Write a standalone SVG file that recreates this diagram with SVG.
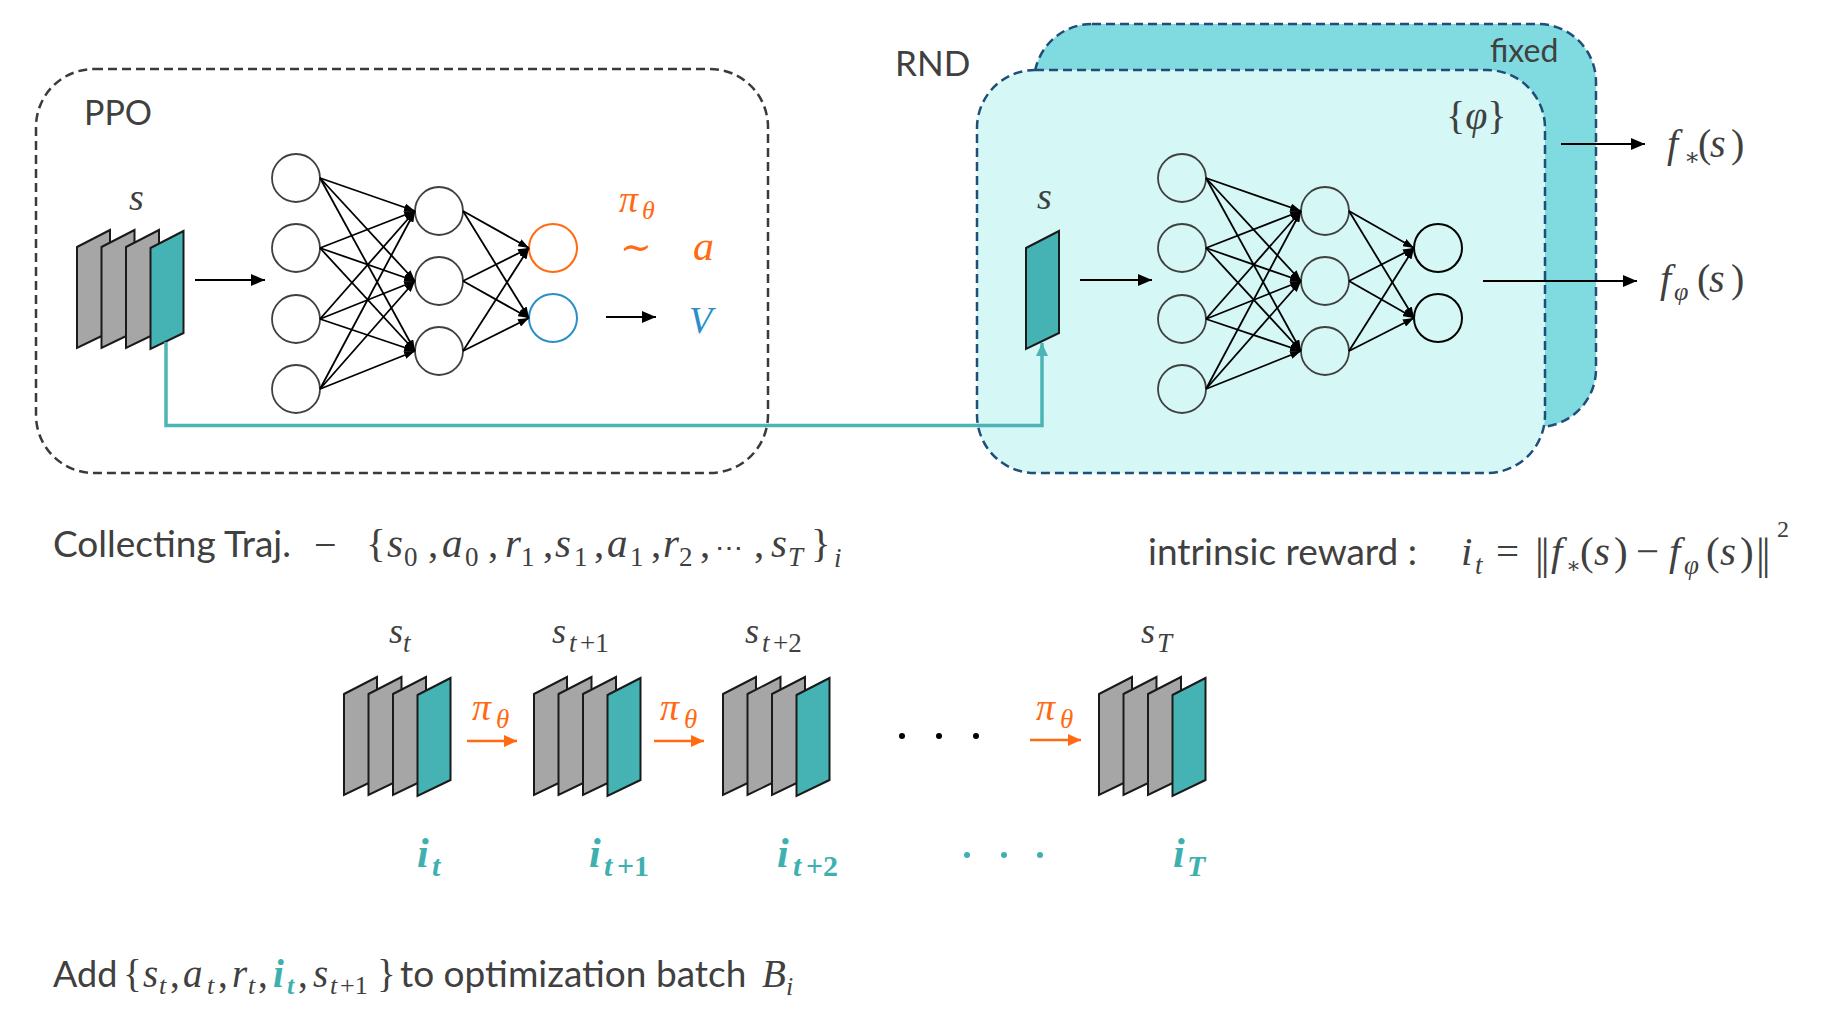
<svg xmlns="http://www.w3.org/2000/svg" width="1830" height="1013" viewBox="0 0 1830 1013">
<defs>
<style>
.sans{font-family:Lato,'Liberation Sans',sans-serif;fill:#404040}
.m{font-family:'Liberation Serif','DejaVu Serif',serif;font-style:italic;fill:#404040}
.n{font-style:normal}
.org{fill:#ff6a13}
.blu{fill:#2a8fc9}
.tl{fill:#3fb0b0;font-weight:bold}
.gray{fill:#a6a6a6;stroke:#1a1a1a;stroke-width:2;stroke-linejoin:miter}
.teal{fill:#45b3b3;stroke:#1a1a1a;stroke-width:2;stroke-linejoin:miter}
.nd{fill:none;stroke:#404040;stroke-width:1.8}
.ndk{fill:none;stroke:#000;stroke-width:2}
.ed{stroke:#000;stroke-width:1.8;marker-end:url(#ah)}
.big{stroke:#000;stroke-width:2;marker-end:url(#ab)}
.oa{stroke:#ff6a13;stroke-width:2.5;marker-end:url(#ao)}
</style>
<marker id="ah" markerUnits="userSpaceOnUse" markerWidth="11" markerHeight="8" refX="11" refY="4" orient="auto"><path d="M0,0 L11,4 L0,8 z" fill="#000"/></marker>
<marker id="ab" markerUnits="userSpaceOnUse" markerWidth="14" markerHeight="12" refX="14" refY="6" orient="auto"><path d="M0,0 L14,6 L0,12 z" fill="#000"/></marker>
<marker id="ao" markerUnits="userSpaceOnUse" markerWidth="13" markerHeight="12" refX="13" refY="6" orient="auto"><path d="M0,0 L13,6 L0,12 z" fill="#ff6a13"/></marker>
<marker id="at" markerUnits="userSpaceOnUse" markerWidth="13" markerHeight="12" refX="13" refY="6" orient="auto"><path d="M0,0 L13,6 L0,12 z" fill="#4bb5b5"/></marker>
<polygon id="frg" class="gray" points="0,17 33,0 33,102 0,118"/>
<polygon id="frt" class="teal" points="0,17 33,0 33,102 0,118"/>
<g id="stack">
<use href="#frg" x="0" y="0"/>
<use href="#frg" x="24.5" y="0"/>
<use href="#frg" x="49" y="0"/>
<use href="#frt" x="73.5" y="1"/>
</g>
</defs>
<rect width="1830" height="1013" fill="#fff"/>

<g id="ppo-box">
<rect x="36" y="69" width="732" height="404" rx="58" fill="none" stroke="#3a3a3a" stroke-width="2.5" stroke-dasharray="9,5"/>
<text class="sans" x="84" y="125" font-size="34">PPO</text>
</g>

<g id="rnd-fixed">
<rect x="1034" y="24" width="562" height="403" rx="58" fill="#7fdbdf" stroke="#1f4e79" stroke-width="2.5" stroke-dasharray="9,5"/>
<text class="sans" x="1490" y="62" font-size="32">fixed</text>
</g>
<g id="rnd-box">
<rect x="977" y="70" width="568" height="403" rx="58" fill="#d5f7f5" stroke="#1f4e79" stroke-width="2.5" stroke-dasharray="9,5"/>
<text class="m" x="1446" y="129" font-size="40"><tspan class="n">{</tspan>φ<tspan class="n">}</tspan></text>
</g>
<g id="rnd-label"><text class="sans" x="895" y="76" font-size="35">RND</text></g>

<g id="ppo-state">
<use href="#stack" x="77" y="230"/>
<text class="m" x="129" y="210" font-size="38">s</text>
</g>
<g id="rnd-state">
<use href="#frt" x="1026" y="231"/>
<text class="m" x="1037" y="209" font-size="38">s</text>
</g>

<g id="ppo-net">
<g id="ppo-in1"><circle class="nd" cx="296" cy="178" r="24"/></g>
<g id="ppo-in2"><circle class="nd" cx="296" cy="248" r="24"/></g>
<g id="ppo-in3"><circle class="nd" cx="296" cy="319" r="24"/></g>
<g id="ppo-in4"><circle class="nd" cx="296" cy="389" r="24"/></g>
<g id="ppo-h1"><circle class="nd" cx="439" cy="211" r="24"/></g>
<g id="ppo-h2"><circle class="nd" cx="439" cy="281" r="24"/></g>
<g id="ppo-h3"><circle class="nd" cx="439" cy="351" r="24"/></g>
<g id="ppo-pi"><circle cx="553" cy="248" r="24" fill="none" stroke="#ff6a13" stroke-width="2"/></g>
<g id="ppo-v"><circle cx="553" cy="318" r="24" fill="none" stroke="#2a8fc9" stroke-width="2"/></g>
</g>
<g id="ppo-out-labels">
<text class="m org" x="619" y="212" font-size="38">π<tspan x="642" y="219" font-size="26">θ</tspan></text>
<text class="m org n" x="620" y="260" font-size="38">∼</text>
<text class="m org" x="693" y="260" font-size="42">a</text>
<text class="m blu" x="689" y="333" font-size="38">V</text>
</g>

<g id="rnd-net">
<g id="rnd-in1"><circle class="nd" cx="1182" cy="178" r="24"/></g>
<g id="rnd-in2"><circle class="nd" cx="1182" cy="248" r="24"/></g>
<g id="rnd-in3"><circle class="nd" cx="1182" cy="319" r="24"/></g>
<g id="rnd-in4"><circle class="nd" cx="1182" cy="389" r="24"/></g>
<g id="rnd-h1"><circle class="nd" cx="1325" cy="211" r="24"/></g>
<g id="rnd-h2"><circle class="nd" cx="1325" cy="281" r="24"/></g>
<g id="rnd-h3"><circle class="nd" cx="1325" cy="351" r="24"/></g>
<g id="rnd-o1"><circle class="ndk" cx="1438" cy="248" r="24"/></g>
<g id="rnd-o2"><circle class="ndk" cx="1438" cy="318" r="24"/></g>
</g>
<g id="rnd-out-labels">
<text class="m" x="1667" y="157" font-size="40">f<tspan class="n" x="1684" y="165" font-size="24">∗</tspan><tspan class="n" x="1698" y="157">(</tspan><tspan x="1710">s</tspan><tspan class="n" x="1731">)</tspan></text>
<text class="m" x="1660" y="292" font-size="40">f<tspan x="1674" y="300" font-size="26">φ</tspan><tspan class="n" x="1697" y="292">(</tspan><tspan x="1709">s</tspan><tspan class="n" x="1731">)</tspan></text>
</g>

<g id="connectors">
<line class="big" x1="195" y1="280" x2="265" y2="280"/>
<line class="big" x1="606" y1="317" x2="656" y2="317"/>
<line class="big" x1="1080" y1="280" x2="1152" y2="280"/>
<line class="big" x1="1561" y1="144" x2="1645" y2="144"/>
<line class="big" x1="1483" y1="281" x2="1637" y2="281"/>
<polyline points="166,342 166,425.5 1042,425.5 1042,343" fill="none" stroke="#4bb5b5" stroke-width="3.5" marker-end="url(#at)"/>
<line class="ed" x1="320" y1="178" x2="415" y2="211"/>
<line class="ed" x1="320" y1="178" x2="415" y2="281"/>
<line class="ed" x1="320" y1="178" x2="415" y2="351"/>
<line class="ed" x1="320" y1="248" x2="415" y2="211"/>
<line class="ed" x1="320" y1="248" x2="415" y2="281"/>
<line class="ed" x1="320" y1="248" x2="415" y2="351"/>
<line class="ed" x1="320" y1="319" x2="415" y2="211"/>
<line class="ed" x1="320" y1="319" x2="415" y2="281"/>
<line class="ed" x1="320" y1="319" x2="415" y2="351"/>
<line class="ed" x1="320" y1="389" x2="415" y2="211"/>
<line class="ed" x1="320" y1="389" x2="415" y2="281"/>
<line class="ed" x1="320" y1="389" x2="415" y2="351"/>
<line class="ed" x1="463" y1="211" x2="529" y2="248"/>
<line class="ed" x1="463" y1="211" x2="529" y2="318"/>
<line class="ed" x1="463" y1="281" x2="529" y2="248"/>
<line class="ed" x1="463" y1="281" x2="529" y2="318"/>
<line class="ed" x1="463" y1="351" x2="529" y2="248"/>
<line class="ed" x1="463" y1="351" x2="529" y2="318"/>
<line class="ed" x1="1206" y1="178" x2="1301" y2="211"/>
<line class="ed" x1="1206" y1="178" x2="1301" y2="281"/>
<line class="ed" x1="1206" y1="178" x2="1301" y2="351"/>
<line class="ed" x1="1206" y1="248" x2="1301" y2="211"/>
<line class="ed" x1="1206" y1="248" x2="1301" y2="281"/>
<line class="ed" x1="1206" y1="248" x2="1301" y2="351"/>
<line class="ed" x1="1206" y1="319" x2="1301" y2="211"/>
<line class="ed" x1="1206" y1="319" x2="1301" y2="281"/>
<line class="ed" x1="1206" y1="319" x2="1301" y2="351"/>
<line class="ed" x1="1206" y1="389" x2="1301" y2="211"/>
<line class="ed" x1="1206" y1="389" x2="1301" y2="281"/>
<line class="ed" x1="1206" y1="389" x2="1301" y2="351"/>
<line class="ed" x1="1349" y1="211" x2="1414" y2="248"/>
<line class="ed" x1="1349" y1="211" x2="1414" y2="318"/>
<line class="ed" x1="1349" y1="281" x2="1414" y2="248"/>
<line class="ed" x1="1349" y1="281" x2="1414" y2="318"/>
<line class="ed" x1="1349" y1="351" x2="1414" y2="248"/>
<line class="ed" x1="1349" y1="351" x2="1414" y2="318"/>
<line class="oa" x1="467" y1="741" x2="517" y2="741"/>
<line class="oa" x1="654" y1="741" x2="704" y2="741"/>
<line class="oa" x1="1030" y1="740" x2="1081" y2="740"/>
</g>

<g id="traj-text">
<text class="sans" x="53" y="557" font-size="37">Collecting Traj.</text>
<text class="m n" x="314" y="558" font-size="40">−</text>
<text class="m" y="557" font-size="41"><tspan class="n" x="366">{</tspan><tspan x="387">s</tspan><tspan class="n" x="404" y="566" font-size="27">0</tspan><tspan class="n" x="428" y="557">,</tspan><tspan x="442">a</tspan><tspan class="n" x="465" y="566" font-size="27">0</tspan><tspan class="n" x="488" y="557">,</tspan><tspan x="505">r</tspan><tspan class="n" x="521" y="566" font-size="27">1</tspan><tspan class="n" x="543" y="557">,</tspan><tspan x="555">s</tspan><tspan class="n" x="574" y="566" font-size="27">1</tspan><tspan class="n" x="594" y="557">,</tspan><tspan x="607">a</tspan><tspan class="n" x="630" y="566" font-size="27">1</tspan><tspan class="n" x="651" y="557">,</tspan><tspan x="663">r</tspan><tspan class="n" x="679" y="566" font-size="27">2</tspan><tspan class="n" x="700" y="557">,</tspan><tspan class="n" x="715" font-size="28">⋯</tspan><tspan class="n" x="754">,</tspan><tspan x="771">s</tspan><tspan x="788" y="566" font-size="27">T</tspan><tspan class="n" x="811" y="557">}</tspan><tspan x="834" y="567" font-size="27">i</tspan></text>
</g>

<g id="intrinsic-text">
<text class="sans" x="1148" y="565" font-size="37">intrinsic reward :</text>
<text class="m" y="565" font-size="41"><tspan x="1461">i</tspan><tspan x="1475" y="574" font-size="27">t</tspan><tspan class="n" x="1496" y="565">=</tspan><tspan class="n" x="1535" y="569" font-size="44" letter-spacing="-3">||</tspan><tspan x="1551" y="565">f</tspan><tspan class="n" x="1566" y="573" font-size="22">∗</tspan><tspan class="n" x="1580" y="565">(</tspan><tspan x="1594">s</tspan><tspan class="n" x="1614">)</tspan><tspan class="n" x="1636">−</tspan><tspan x="1669">f</tspan><tspan x="1684" y="574" font-size="27">φ</tspan><tspan class="n" x="1706" y="565">(</tspan><tspan x="1720">s</tspan><tspan class="n" x="1740">)</tspan><tspan class="n" x="1756" y="569" font-size="44" letter-spacing="-3">||</tspan><tspan class="n" x="1777" y="537" font-size="24">2</tspan></text>
</g>

<g id="state-t">
<use href="#stack" x="344" y="677"/>
<text class="m" x="389" y="643" font-size="36">s<tspan x="403" y="652" font-size="27">t</tspan></text>
</g>
<g id="state-t1">
<use href="#stack" x="534" y="677"/>
<text class="m" x="552" y="643" font-size="36">s<tspan x="569" y="652" font-size="27">t</tspan><tspan class="n" x="580" font-size="27">+1</tspan></text>
</g>
<g id="state-t2">
<use href="#stack" x="723" y="677"/>
<text class="m" x="745" y="643" font-size="36">s<tspan x="762" y="652" font-size="27">t</tspan><tspan class="n" x="773" font-size="27">+2</tspan></text>
</g>
<g id="state-T">
<use href="#stack" x="1099" y="677"/>
<text class="m" x="1141" y="643" font-size="36">s<tspan x="1157" y="652" font-size="27">T</tspan></text>
</g>

<g id="policy-labels">
<text class="m org" x="472" y="720" font-size="38">π<tspan x="496" y="728" font-size="27">θ</tspan></text>
<text class="m org" x="660" y="720" font-size="38">π<tspan x="684" y="728" font-size="27">θ</tspan></text>
<text class="m org" x="1036" y="720" font-size="38">π<tspan x="1060" y="728" font-size="27">θ</tspan></text>
</g>

<g id="ellipsis">
<circle cx="902" cy="736" r="3" fill="#000"/>
<circle cx="939" cy="736" r="3" fill="#000"/>
<circle cx="976" cy="736" r="3" fill="#000"/>
<circle cx="967" cy="855" r="3" fill="#3fb0b0"/>
<circle cx="1004" cy="855" r="3" fill="#3fb0b0"/>
<circle cx="1040" cy="855" r="3" fill="#3fb0b0"/>
</g>

<g id="reward-labels">
<text class="m tl" x="417" y="867" font-size="42">i<tspan x="432" y="876" font-size="30">t</tspan></text>
<text class="m tl" x="589" y="867" font-size="42">i<tspan x="604" y="876" font-size="30">t</tspan><tspan class="n" x="617" font-size="30">+1</tspan></text>
<text class="m tl" x="777" y="867" font-size="42">i<tspan x="793" y="876" font-size="30">t</tspan><tspan class="n" x="806" font-size="30">+2</tspan></text>
<text class="m tl" x="1173" y="867" font-size="42">i<tspan x="1187" y="876" font-size="30">T</tspan></text>
</g>

<g id="add-text">
<text class="sans" x="53" y="987" font-size="36">Add</text>
<text class="m" y="987" font-size="39"><tspan class="n" x="123">{</tspan><tspan x="143">s</tspan><tspan x="159" y="994" font-size="26">t</tspan><tspan class="n" x="170" y="987">,</tspan><tspan x="183">a</tspan><tspan x="207" y="994" font-size="26">t</tspan><tspan class="n" x="218" y="987">,</tspan><tspan x="232">r</tspan><tspan x="248" y="994" font-size="26">t</tspan><tspan class="n" x="258" y="987">,</tspan><tspan class="tl" x="273">i</tspan><tspan class="tl" x="287" y="994" font-size="26">t</tspan><tspan class="n" x="298" y="987">,</tspan><tspan x="313">s</tspan><tspan x="330" y="994" font-size="26">t</tspan><tspan class="n" x="340" font-size="26">+1</tspan><tspan class="n" x="377" y="987">}</tspan></text>
<text class="sans" x="400" y="987" font-size="37">to optimization batch</text>
<text class="m" x="762" y="987" font-size="39">B<tspan x="786" y="995" font-size="26">i</tspan></text>
</g>
</svg>
